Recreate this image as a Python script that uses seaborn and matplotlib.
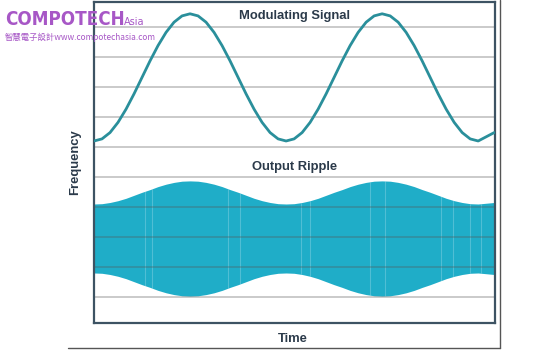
import numpy as np
import pandas as pd
import matplotlib
matplotlib.use("Agg")
import matplotlib.pyplot as plt
import seaborn as sns

# ---- data (time in arbitrary units, period = 24) ----
time = [0, 1, 2, 3, 4, 5, 6, 7, 8, 9, 10, 11, 12, 13, 14, 15, 16, 17, 18, 19, 20, 21, 22, 23, 24,
        25, 26, 27, 28, 29, 30, 31, 32, 33, 34, 35, 36, 37, 38, 39, 40, 41, 42, 43, 44, 45, 46, 47, 48, 50]
modulating = [6.20, 6.27, 6.48, 6.82, 7.26, 7.77, 8.32, 8.87, 9.38, 9.82, 10.16, 10.37, 10.44,
              10.37, 10.16, 9.82, 9.38, 8.87, 8.32, 7.77, 7.26, 6.82, 6.48, 6.27, 6.20,
              6.27, 6.48, 6.82, 7.26, 7.77, 8.32, 8.87, 9.38, 9.82, 10.16, 10.37, 10.44,
              10.37, 10.16, 9.82, 9.38, 8.87, 8.32, 7.77, 7.26, 6.82, 6.48, 6.27, 6.20, 6.48]
ripple_upper = [4.10, 4.11, 4.15, 4.21, 4.29, 4.39, 4.49, 4.58, 4.68, 4.76, 4.82, 4.86, 4.87,
                4.86, 4.82, 4.76, 4.68, 4.58, 4.49, 4.39, 4.29, 4.21, 4.15, 4.11, 4.10,
                4.11, 4.15, 4.21, 4.29, 4.39, 4.49, 4.58, 4.68, 4.76, 4.82, 4.86, 4.87,
                4.86, 4.82, 4.76, 4.68, 4.58, 4.49, 4.39, 4.29, 4.21, 4.15, 4.11, 4.10, 4.15]
ripple_lower = [1.80, 1.79, 1.75, 1.69, 1.61, 1.51, 1.41, 1.32, 1.22, 1.14, 1.08, 1.04, 1.03,
                1.04, 1.08, 1.14, 1.22, 1.32, 1.41, 1.51, 1.61, 1.69, 1.75, 1.79, 1.80,
                1.79, 1.75, 1.69, 1.61, 1.51, 1.41, 1.32, 1.22, 1.14, 1.08, 1.04, 1.03,
                1.04, 1.08, 1.14, 1.22, 1.32, 1.41, 1.51, 1.61, 1.69, 1.75, 1.79, 1.80, 1.75]
streak_times = [6.4, 7.3, 16.8, 18.2, 25.8, 27.0, 34.5, 36.4, 43.3, 44.8, 47.0, 48.3]
grid_levels = [1, 2, 3, 4, 5, 6, 7, 8, 9, 10]

df = pd.DataFrame({"Time": time, "Modulating": modulating,
                   "Upper": ripple_upper, "Lower": ripple_lower})

sns.set_style("white")
plt.rcParams['font.family'] = ['Liberation Sans', 'DejaVu Sans']

fig = plt.figure(figsize=(5.6, 3.5), dpi=100)
ax = fig.add_axes([94/560, 27/350, 401/560, 321/350])

band_color = "#1fadc8"
line_color = "#2a8f9b"
frame_color = "#3d5363"
text_color = "#2b3a4a"

# ripple band
ax.fill_between(df["Time"], df["Lower"], df["Upper"], color=band_color, lw=0, zorder=1)
up_i = np.interp(streak_times, df["Time"], df["Upper"])
lo_i = np.interp(streak_times, df["Time"], df["Lower"])
ax.vlines(streak_times, lo_i, up_i, color="white", alpha=0.22, lw=0.8, zorder=1.5)

# gridlines
for g in grid_levels:
    ax.axhline(g, color="#555555", alpha=0.36, lw=1.2, zorder=2)

# modulating signal
sns.lineplot(data=df, x="Time", y="Modulating", ax=ax, color=line_color, lw=2.0, zorder=3)

ax.set_xlim(0, 50.1)
ax.set_ylim(0.133, 10.833)
ax.set_xticks([])
ax.set_yticks([])
ax.set_xlabel("")
ax.set_ylabel("")
for s in ax.spines.values():
    s.set_color(frame_color)
    s.set_linewidth(1.6)

ax.text(0.5, 0.955, "Modulating Signal", transform=ax.transAxes, ha="center", va="center",
        fontsize=9.4, fontweight="bold", color=text_color)
ax.text(0.5, 0.487, "Output Ripple", transform=ax.transAxes, ha="center", va="center",
        fontsize=9.4, fontweight="bold", color=text_color)
fig.text(293/560, 1 - 339/350, "Time", ha="center", va="center",
         fontsize=9.4, fontweight="bold", color=text_color)
fig.text(75/560, 1 - 162/350, "Frequency", ha="center", va="center", rotation=90,
         fontsize=9.4, fontweight="bold", color=text_color)

# outer frame
fig.add_artist(plt.Line2D([500/560, 500/560], [2/350, 1.0], transform=fig.transFigure,
                          color="#555555", lw=1.0))
fig.add_artist(plt.Line2D([68/560, 500/560], [2/350, 2/350], transform=fig.transFigure,
                          color="#555555", lw=1.0))

# watermark
purple = "#a757c6"
fig.text(5/560, 1 - 25/350, "COMPOTECH", ha="left", va="baseline", fontsize=13.5,
         color=purple, fontstretch="condensed", fontweight="bold",
         family=['DejaVu Sans Condensed', 'DejaVu Sans'])
fig.text(124/560, 1 - 25/350, "Asia", ha="left", va="baseline", fontsize=7,
         color=purple, family=['DejaVu Sans Condensed', 'DejaVu Sans'])
fig.text(5/560, 1 - 40/350, "智慧電子設計www.compotechasia.com", ha="left", va="baseline",
         fontsize=6, color=purple, family=['Noto Sans CJK TC', 'DejaVu Sans'])

fig.savefig("out.png", dpi=100)
